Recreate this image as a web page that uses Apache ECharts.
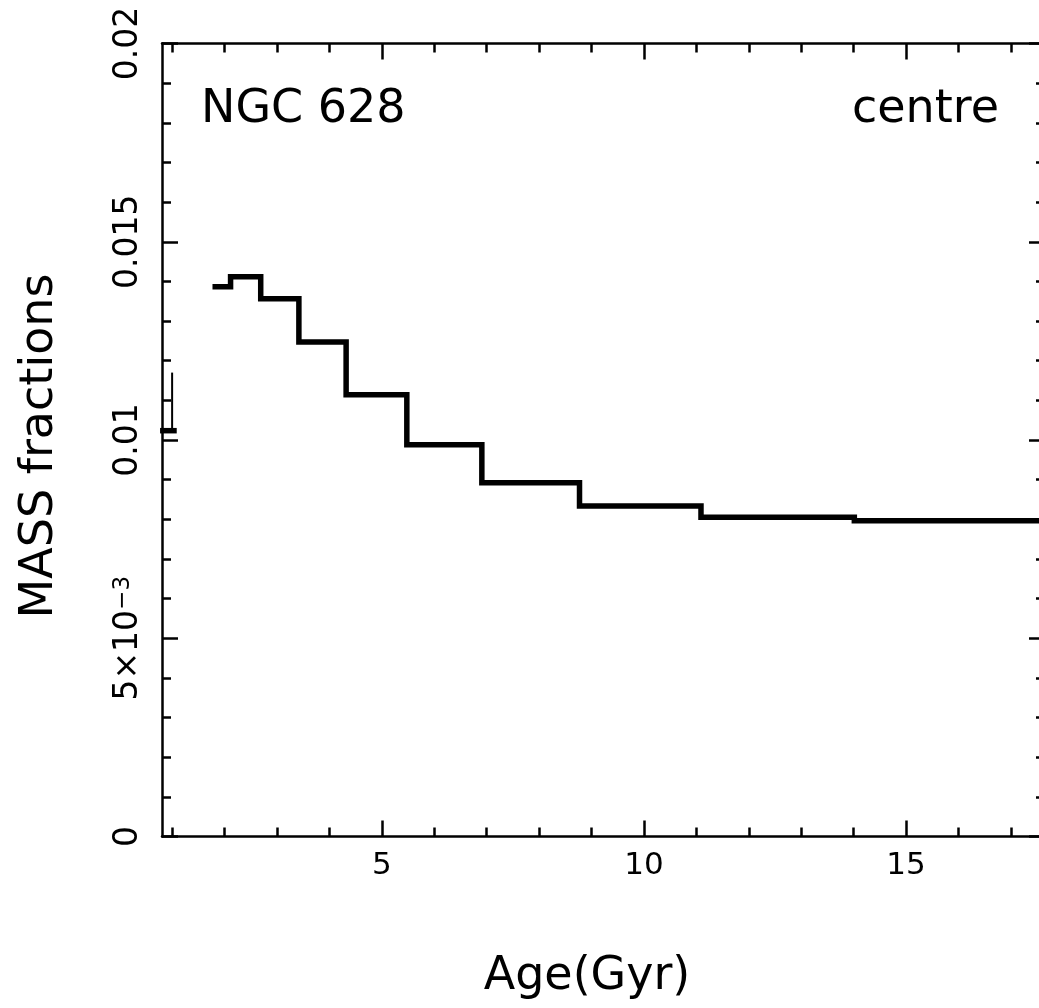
<!DOCTYPE html>
<html>
<head>
<meta charset="utf-8">
<script src="https://cdn.jsdelivr.net/npm/echarts@6/dist/echarts.min.js"></script>
<style>
  html, body { margin: 0; padding: 0; background: #fff; }
  #chart { width: 1039px; height: 1008px; }
</style>
</head>
<body>
<div id="chart"></div>
<script>
// Age bin edges (Gyr) of the star-formation history steps
const binEdges = [1.77, 2.115, 2.69, 3.418, 4.319, 5.477, 6.908, 8.771, 11.088, 14.013, 17.7];
// Mass fraction held in each bin
const massFractions = [0.013867, 0.014118, 0.013564, 0.012472, 0.011142, 0.009882, 0.008923, 0.008335, 0.00805, 0.007965];
// Youngest bin, starting left of the plotted age range
const youngBinEdges = [0.77, 1.088];
const youngBinFraction = 0.010235;
// Error bar on the youngest bin
const youngErrAge = 1.0;
const youngErrRange = [0.010235, 0.0117];

// Axis ranges and ticks
const xRange = [0.807, 17.65];
const xMajorTicks = [5, 10, 15];
const xMinorTicks = [1, 2, 3, 4, 6, 7, 8, 9, 11, 12, 13, 14, 16, 17];
const yRange = [0, 0.02];
const yTickValues = [0, 0.005, 0.01, 0.015, 0.02];
const yTickLabels = ['0', '5×10{sup|−3}', '0.01', '0.015', '0.02'];

const INK = '#000';
const FONT = '"DejaVu Sans", "Liberation Sans", sans-serif';

// Turn bin edges + values into a staircase polyline
function stepPoints(edges, values) {
  const pts = [];
  values.forEach((v, i) => {
    pts.push([edges[i], v]);
    pts.push([edges[i + 1], v]);
  });
  return pts;
}

function xAxisDef(position, ticks, tickLen, withLabels, withLine) {
  return {
    type: 'value',
    position: position,
    min: xRange[0],
    max: xRange[1],
    axisLine: { show: withLine, onZero: false, lineStyle: { color: INK, width: 2.5 } },
    axisTick: { show: true, inside: true, length: tickLen, customValues: ticks,
                lineStyle: { color: INK, width: 2.5 } },
    axisLabel: withLabels
      ? { show: true, customValues: ticks, color: INK, fontSize: 31, fontFamily: FONT, margin: 14 }
      : { show: false },
    splitLine: { show: false },
    minorTick: { show: false }
  };
}

function yAxisDef(position, withLabels) {
  return {
    type: 'value',
    position: position,
    min: yRange[0],
    max: yRange[1],
    interval: 0.005,
    axisLine: { show: true, onZero: false, lineStyle: { color: INK, width: 2.5 } },
    axisTick: { show: true, inside: true, length: 16, lineStyle: { color: INK, width: 2.5 } },
    minorTick: { show: true, splitNumber: 5, length: 9, lineStyle: { color: INK, width: 2.5 } },
    axisLabel: withLabels ? {
      show: true,
      rotate: 90,
      margin: 17,
      color: INK,
      fontSize: 33,
      fontFamily: FONT,
      formatter: function (v) {
        for (let i = 0; i < yTickValues.length; i++) {
          if (Math.abs(v - yTickValues[i]) < 1e-9) return yTickLabels[i];
        }
        return '';
      },
      rich: {
        sup: { fontSize: 23, fontFamily: FONT, color: INK, verticalAlign: 'top', lineHeight: 20 }
      }
    } : { show: false },
    splitLine: { show: false },
    minorSplitLine: { show: false }
  };
}

const chart = echarts.init(document.getElementById('chart'), null, { renderer: 'canvas' });

chart.setOption({
  backgroundColor: '#fff',
  animation: false,
  grid: { left: 162, top: 43.5, right: -6, bottom: 171.5, containLabel: false, outerBoundsMode: 'none' },
  xAxis: [
    xAxisDef('bottom', xMajorTicks, 16, true, true),
    xAxisDef('bottom', xMinorTicks, 9, false, false),
    xAxisDef('top', xMajorTicks, 16, false, true),
    xAxisDef('top', xMinorTicks, 9, false, false)
  ],
  yAxis: [
    yAxisDef('left', true),
    yAxisDef('right', false)
  ],
  series: [
    {
      type: 'line',
      xAxisIndex: 0, yAxisIndex: 0,
      data: stepPoints(binEdges, massFractions),
      showSymbol: false,
      lineStyle: { color: INK, width: 5.5, join: 'miter' },
      clip: true
    },
    {
      type: 'line',
      xAxisIndex: 0, yAxisIndex: 0,
      data: stepPoints(youngBinEdges, [youngBinFraction]),
      showSymbol: false,
      lineStyle: { color: INK, width: 5.5 },
      clip: false
    },
    {
      type: 'line',
      xAxisIndex: 0, yAxisIndex: 0,
      data: youngErrRange.map(v => [youngErrAge, v]),
      showSymbol: false,
      lineStyle: { color: INK, width: 2 },
      clip: false
    }
  ],
  graphic: [
    { type: 'text', left: 201, top: 87,
      style: { text: 'NGC 628', fill: INK, font: '46px "DejaVu Sans", sans-serif' } },
    { type: 'text', right: 40, top: 87,
      style: { text: 'centre', fill: INK, font: '46px "DejaVu Sans", sans-serif' } },
    { type: 'text', x: 587, y: 977,
      style: { text: 'Age(Gyr)', fill: INK, font: '46px "DejaVu Sans", sans-serif',
               align: 'center', verticalAlign: 'middle' } },
    { type: 'text', x: 40, y: 446, rotation: Math.PI / 2,
      style: { text: 'MASS fractions', fill: INK, font: '46px "DejaVu Sans", sans-serif',
               align: 'center', verticalAlign: 'middle' } }
  ]
});
</script>
</body>
</html>
